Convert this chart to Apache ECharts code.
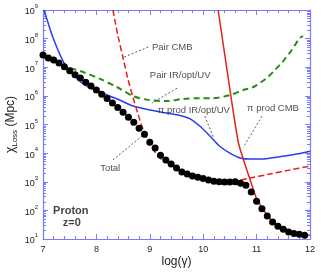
<!DOCTYPE html>
<html><head><meta charset="utf-8">
<script src="https://cdn.jsdelivr.net/npm/echarts@6/dist/echarts.min.js"></script>
<style>html,body{margin:0;padding:0;background:#fff}#c{width:327px;height:275px}</style>
</head><body><div id="c"></div>
<script>
// ---- data (x = log(gamma), y = chi_loss in Mpc) ----
var totalX = [7.0,7.1,7.2,7.3,7.4,7.5,7.6,7.7,7.8,7.9,8.0,8.1,8.2,8.3,8.4,8.5,8.6,8.7,8.8,8.9,9.0,9.1,9.2,9.3,9.4,9.5,9.6,9.7,9.8,9.9,10.0,10.1,10.2,10.3,10.4,10.5,10.6,10.7,10.8,10.9,11.0,11.1,11.2,11.3,11.4,11.5,11.6,11.7,11.8,11.9];
var totalY = [2.7e7,2.1e7,1.8e7,1.4e7,1.05e7,7.6e6,5.5e6,4.2e6,3.0e6,2.2e6,1.6e6,1.15e6,8.1e5,5.6e5,3.9e5,2.7e5,1.8e5,1.2e5,7.4e4,4.6e4,2.4e4,1.5e4,8.5e3,5.8e3,4.2e3,3.0e3,2.2e3,1.86e3,1.6e3,1.45e3,1.3e3,1.15e3,1.05e3,1.0e3,980,980,1.0e3,890,760,440,210,115,63,39,28,22,17.4,15.5,14.8,13.5];

var piIrX = [7.02,7.09,7.19,7.32,7.43,7.64,7.82,8.01,8.20,8.39,8.69,9.0,9.32,9.62,9.75,9.94,10.13,10.31,10.50,10.69,10.88,11.10,11.37,11.75,12.0];
var piIrY = [1e9,3.8e8,1.05e8,2.7e7,1.1e7,3.9e6,2.2e6,1.48e6,1.07e6,7.8e5,4.4e5,3.2e5,2.5e5,1.95e5,1.6e5,8.7e4,3.9e4,1.74e4,1.0e4,6.8e3,6.2e3,6.2e3,7.2e3,9.3e3,1.17e4];

var pairCmbX = [8.31,8.40,8.50,8.59,8.69,8.78,8.87,8.97,9.10,9.19,9.30,9.40,9.51,9.60,9.72,9.81,9.92,10.01,10.13,10.22,10.31,10.56,10.88,11.25,11.63,12.0];
var pairCmbY = [1e9,1.35e8,2.1e7,3.9e6,8.3e5,2.3e5,6.9e4,2.6e4,1.07e4,6.8e3,4.9e3,3.8e3,3.0e3,2.2e3,1.86e3,1.6e3,1.45e3,1.23e3,1.15e3,1.05e3,1.0e3,1.05e3,1.35e3,1.86e3,2.6e3,3.5e3];

var piCmbX = [10.28,10.46,10.65,10.75,10.88,11.01,11.12,11.21,11.31,11.51,11.72,12.0];
var piCmbY = [1e9,5.4e6,2.8e4,6.2e3,1.15e3,230,110,63,39,22,15.8,13.5];

var pairIrX = [7.0,7.13,7.45,7.75,8.07,8.39,8.69,9.0,9.32,9.62,9.94,10.18,10.50,10.75,10.93,11.19,11.34,11.48,11.63,11.81,11.87];
var pairIrY = [2.45e7,1.8e7,1.02e7,6.8e6,3.9e6,2.0e6,9.8e5,7.1e5,6.6e5,7.8e5,8.3e5,8.3e5,1.07e6,1.6e6,2.0e6,4.2e6,7.9e6,1.5e7,3.4e7,1.05e8,1.23e8];

var xTicks = [7,8,9,10,11,12];
var yMin = 10, yMax = 1e9;

// annotations (data coordinates)
var annoText = ['Pair CMB','Pair IR/opt/UV','\u03c0 prod IR/opt/UV','\u03c0 prod CMB','Total'];
var annoPos = [[9.04,5.1e7],[9.0,5.4e6],[9.15,3.2e5],[10.82,3.7e5],[8.07,3.0e3]];
var leaderFrom = [[8.97,5.1e7],[9.51,1.86e6],[10.03,1.95e5],[11.10,1.95e5],[8.31,5.8e3]];
var leaderTo = [[8.48,2.1e7],[9.04,5.6e5],[10.20,3.3e4],[10.75,1.6e4],[8.85,3.9e4]];
var boxText = ['Proton','z=0'];
var boxPos = [[7.52,93],[7.54,35]];

// ---- build ----
function zip(a,b){return a.map(function(v,i){return [v,b[i]];});}
var AX = '#7b7bff';
var FONT = 'Liberation Sans, Arial, sans-serif';
var minorLog = [];
for (var n=1;n<9;n++){ for (var k=2;k<10;k++){ minorLog.push(n+Math.log10(k)); } }

var chart = echarts.init(document.getElementById('c'), null, {renderer:'canvas'});
var series = [];
series.push({type:'line',name:'Pair IR/opt/UV',data:zip(pairIrX,pairIrY),showSymbol:false,smooth:0.3,
  lineStyle:{color:'#2a8a1a',width:2,type:[6,4]},z:2});
series.push({type:'line',name:'pi IR',data:zip(piIrX,piIrY),showSymbol:false,smooth:0.3,
  lineStyle:{color:'#2b3cf0',width:1.5},z:3});
series.push({type:'line',name:'Pair CMB',data:zip(pairCmbX,pairCmbY),showSymbol:false,smooth:0.3,
  lineStyle:{color:'#e8201c',width:1.5,type:[6,3]},z:3});
series.push({type:'line',name:'pi CMB',data:zip(piCmbX,piCmbY),showSymbol:false,smooth:0.3,
  lineStyle:{color:'#e8201c',width:1.5},z:3});
series.push({type:'scatter',name:'Total',data:zip(totalX,totalY),symbol:'circle',symbolSize:7,
  itemStyle:{color:'#000',opacity:1},z:5});
leaderFrom.forEach(function(p,i){
  series.push({type:'line',data:[p,leaderTo[i]],showSymbol:false,
    lineStyle:{color:'#333',width:0.8,type:[2,2]},z:4});
});
series.push({type:'scatter',data:annoPos.map(function(p,i){return {value:p,name:annoText[i]};}),
  symbolSize:0,z:6,label:{show:true,position:'right',distance:0,formatter:'{b}',
  fontFamily:FONT,fontSize:9.5,color:'#222'}});
series.push({type:'scatter',data:boxPos.map(function(p,i){return {value:p,name:boxText[i]};}),
  symbolSize:0,z:6,label:{show:true,position:'inside',formatter:'{b}',
  fontFamily:FONT,fontSize:11,fontWeight:'bold',color:'#111'}});

var supFmt = function(v){ var e=Math.round(Math.log10(v)); return '{a|10}{b|'+e+'}'; };
var richLab = {a:{fontSize:9,fontFamily:FONT,color:'#222',verticalAlign:'bottom',lineHeight:13},
               b:{fontSize:6,fontFamily:FONT,color:'#222',verticalAlign:'top',lineHeight:13}};

chart.setOption({
  animation:false,
  grid:{left:43,right:17,top:10,bottom:36,outerBoundsMode:'none',containLabel:false},
  xAxis:[{type:'value',min:xTicks[0],max:xTicks[xTicks.length-1],interval:1,position:'bottom',
      name:'log(\u03b3)',nameLocation:'middle',nameGap:17,nameMoveOverlap:false,
      nameTextStyle:{fontFamily:FONT,fontSize:12,color:'#222'},
      axisLine:{lineStyle:{color:AX,width:1.2}},
      axisTick:{inside:true,length:5,lineStyle:{color:AX}},
      minorTick:{show:true,splitNumber:5,length:3,lineStyle:{color:AX}},
      axisLabel:{fontFamily:FONT,fontSize:9,color:'#222',margin:6},
      splitLine:{show:false}},
    {type:'value',min:xTicks[0],max:xTicks[xTicks.length-1],interval:1,position:'top',
      axisLine:{lineStyle:{color:AX,width:1.2}},
      axisTick:{inside:true,length:5,lineStyle:{color:AX}},
      minorTick:{show:true,splitNumber:5,length:3,lineStyle:{color:AX}},
      axisLabel:{show:false},splitLine:{show:false}}],
  yAxis:[{type:'log',logBase:10,min:yMin,max:yMax,position:'left',
      name:'{c|\u03c7}{s|Loss} {c|(Mpc)}',nameLocation:'middle',nameGap:24,nameRotate:90,nameMoveOverlap:false,
      nameTextStyle:{rich:{c:{fontFamily:FONT,fontSize:12,color:'#222'},
        s:{fontFamily:FONT,fontSize:8,color:'#222',verticalAlign:'bottom',lineHeight:16}}},
      axisLine:{lineStyle:{color:AX,width:1.2}},
      axisTick:{inside:true,length:5,lineStyle:{color:AX}},
      axisLabel:{formatter:supFmt,rich:richLab,margin:5},splitLine:{show:false}},
    {type:'log',logBase:10,min:yMin,max:yMax,position:'right',
      axisLine:{lineStyle:{color:AX,width:1.2}},
      axisTick:{inside:true,length:5,lineStyle:{color:AX}},
      axisLabel:{show:false},splitLine:{show:false}},
    {type:'value',min:1,max:9,position:'left',
      axisLine:{show:false},axisTick:{inside:true,length:3,customValues:minorLog,lineStyle:{color:AX}},
      axisLabel:{show:false},splitLine:{show:false}},
    {type:'value',min:1,max:9,position:'right',
      axisLine:{show:false},axisTick:{inside:true,length:3,customValues:minorLog,lineStyle:{color:AX}},
      axisLabel:{show:false},splitLine:{show:false}}],
  series:series
});
</script></body></html>
